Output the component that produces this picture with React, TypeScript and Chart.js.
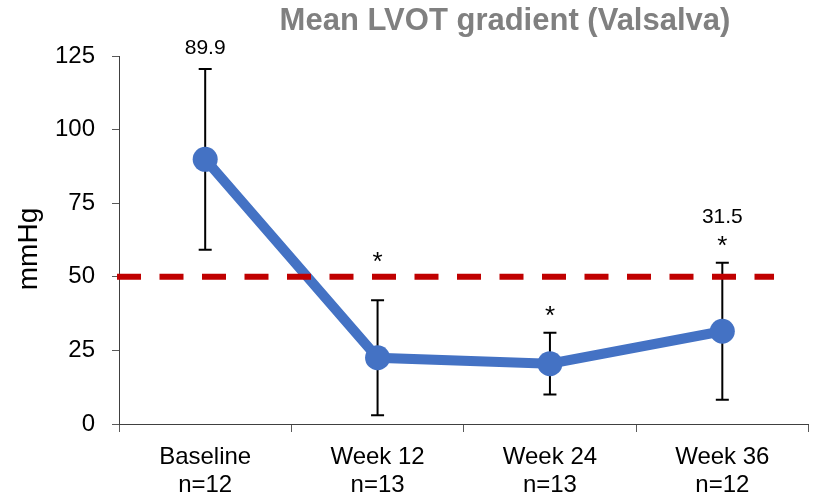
import React, { useEffect, useRef } from "react";
import { Chart, registerables } from "chart.js";

Chart.register(...registerables);

// Visits and cohort sizes
const visits = ["Baseline", "Week 12", "Week 24", "Week 36"];
const cohortSizes = [12, 13, 13, 12];

// Mean LVOT gradient (mmHg) and standard deviation at each visit
const meanGradient = [89.9, 22.5, 20.5, 31.5];
const sdGradient = [30.7, 19.5, 10.5, 23.3];

// Visits flagged as significant vs baseline, and visits with a printed mean
const significant = [false, true, true, true];
const showValue = [true, false, false, true];

// Obstruction threshold (mmHg)
const threshold = [50];

// Y axis ticks
const yMin = 0;
const yMax = 125;
const yStep = 25;

const TITLE = "Mean LVOT gradient (Valsalva)";
const Y_TITLE = "mmHg";
const FONT = "'Liberation Sans', Arial, sans-serif";

const overlayPlugin = {
  id: "lvotOverlay",
  beforeDatasetsDraw(chart: any) {
    const { ctx, scales } = chart;
    const x = scales.x;
    const y = scales.y;
    ctx.save();
    ctx.strokeStyle = "#000000";
    ctx.lineWidth = 2;
    meanGradient.forEach((m, i) => {
      const px = x.getPixelForValue(i);
      const top = y.getPixelForValue(m + sdGradient[i]);
      const bot = y.getPixelForValue(m - sdGradient[i]);
      ctx.beginPath();
      ctx.moveTo(px, top);
      ctx.lineTo(px, bot);
      ctx.moveTo(px - 6.5, top);
      ctx.lineTo(px + 6.5, top);
      ctx.moveTo(px - 6.5, bot);
      ctx.lineTo(px + 6.5, bot);
      ctx.stroke();
    });
    ctx.restore();
  },
  afterDatasetsDraw(chart: any) {
    const { ctx, scales, chartArea } = chart;
    const x = scales.x;
    const y = scales.y;
    const lineY = y.getPixelForValue(threshold[0]);
    const step = x.getPixelForValue(1) - x.getPixelForValue(0);

    // dashed threshold line
    ctx.save();
    ctx.strokeStyle = "#C00000";
    ctx.lineWidth = 6;
    ctx.setLineDash([24, 18.5]);
    ctx.beginPath();
    ctx.moveTo(chartArea.left - 2, lineY);
    ctx.lineTo(x.getPixelForValue(visits.length - 1) + step * 0.3, lineY);
    ctx.stroke();
    ctx.restore();

    // significance markers and printed means
    ctx.save();
    ctx.fillStyle = "#000000";
    ctx.textAlign = "center";
    ctx.textBaseline = "middle";
    meanGradient.forEach((m, i) => {
      const px = x.getPixelForValue(i);
      const top = y.getPixelForValue(m + sdGradient[i]);
      let anchor = top;
      if (significant[i]) {
        let sy = top - 21;
        if (sy > lineY - 24 && sy < lineY + 10) sy = lineY - 19;
        ctx.font = `26px ${FONT}`;
        ctx.fillText("*", px, sy + 5);
        anchor = sy;
      }
      if (showValue[i]) {
        ctx.font = `21px ${FONT}`;
        ctx.fillText(m.toFixed(1), px, anchor - (significant[i] ? 24 : 21));
      }
    });

    // chart title
    ctx.font = `bold 31px ${FONT}`;
    ctx.fillStyle = "#808080";
    ctx.textAlign = "center";
    ctx.textBaseline = "alphabetic";
    ctx.fillText(TITLE, 505, 30);

    // y axis title
    ctx.translate(29, 249);
    ctx.rotate(-Math.PI / 2);
    ctx.font = `28px ${FONT}`;
    ctx.fillStyle = "#000000";
    ctx.textBaseline = "middle";
    ctx.fillText(Y_TITLE, 0, 0);
    ctx.restore();
  },
};

export default function App() {
  const canvasRef = useRef<HTMLCanvasElement | null>(null);

  useEffect(() => {
    if (!canvasRef.current) return;
    const labels = visits.map((v, i) => [v, `n=${cohortSizes[i]}`]);
    const chart = new Chart(canvasRef.current, {
      type: "line",
      data: {
        labels,
        datasets: [
          {
            data: meanGradient,
            borderColor: "#4472C4",
            backgroundColor: "#4472C4",
            borderWidth: 10,
            pointRadius: 12.5,
            pointHoverRadius: 12.5,
            pointBorderWidth: 0,
            pointBackgroundColor: "#4472C4",
            tension: 0,
          },
        ],
      },
      options: {
        responsive: false,
        animation: false,
        layout: { padding: { top: 56, right: 7, left: 0, bottom: 0 } },
        plugins: {
          legend: { display: false },
          title: { display: false },
          tooltip: { enabled: false },
        },
        scales: {
          x: {
            offset: true,
            grid: {
              display: true,
              offset: true,
              drawOnChartArea: false,
              drawTicks: true,
              tickLength: 8,
              color: "#595959",
            },
            border: { display: true, color: "#404040", width: 1 },
            ticks: {
              color: "#000000",
              font: { family: FONT, size: 24, lineHeight: 1.18 },
              padding: 11,
              maxRotation: 0,
              autoSkip: false,
            },
            afterFit: (scale: any) => {
              scale.height = 76;
            },
          },
          y: {
            min: yMin,
            max: yMax,
            grid: {
              display: true,
              drawOnChartArea: false,
              drawTicks: true,
              tickLength: 7,
              color: "#595959",
            },
            border: { display: true, color: "#404040", width: 1 },
            ticks: {
              stepSize: yStep,
              color: "#000000",
              font: { family: FONT, size: 24 },
              padding: 17,
            },
            afterFit: (scale: any) => {
              scale.width = 119;
            },
          },
        },
      },
      plugins: [overlayPlugin],
    });
    return () => chart.destroy();
  }, []);

  return (
    <div style={{ position: "absolute", left: 0, top: 0, width: 821, height: 500, background: "#ffffff" }}>
      <canvas ref={canvasRef} width={821} height={500} />
    </div>
  );
}
